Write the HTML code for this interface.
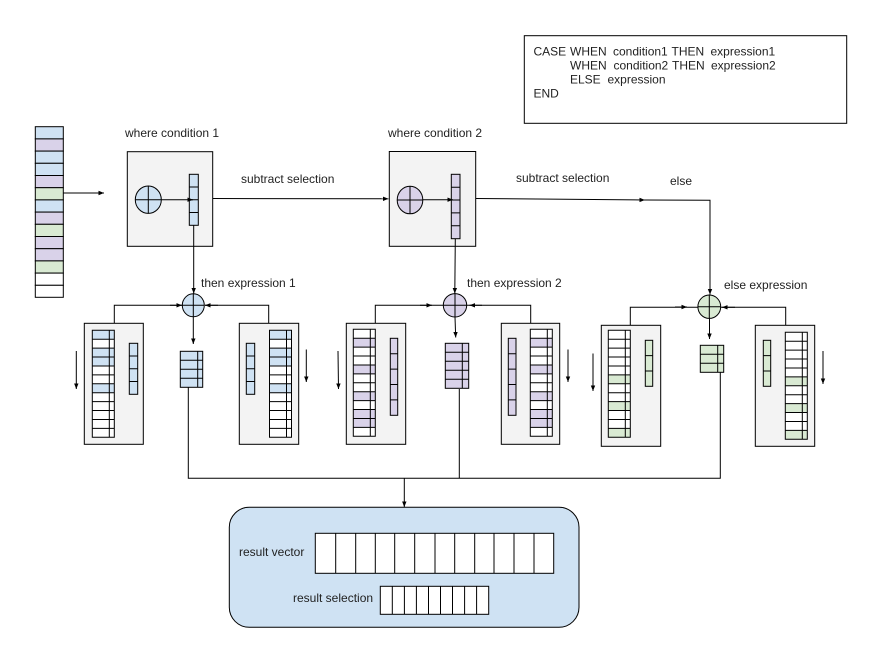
<!DOCTYPE html>
<html><head><meta charset="utf-8"><style>
html,body{margin:0;padding:0;background:#fff}
svg{display:block}
text{font-family:"Liberation Sans",sans-serif;font-size:12px;fill:#222}
.l{fill:none;stroke:#000;stroke-width:1}
.a{fill:none;stroke:#000;stroke-width:1;marker-end:url(#h)}
.b{fill:#f3f3f3;stroke:#000;stroke-width:1}
.w{fill:#fff;stroke:none}
</style></head><body>
<svg width="882" height="654" viewBox="0 0 882 654" xmlns="http://www.w3.org/2000/svg">
<defs>
<marker id="h" markerUnits="userSpaceOnUse" markerWidth="6" markerHeight="6" refX="5.5" refY="3" orient="auto"><path d="M0,.8L5.5,3L0,5.2z" fill="#000"/></marker>
<g id="tg"><path class="l" d="M0,0H22V107H0ZM17,0V107M0,8.92H22M0,17.83H22M0,26.75H22M0,35.67H22M0,44.58H22M0,53.5H22M0,62.42H22M0,71.33H22M0,80.25H22M0,89.17H22M0,98.08H22"/></g>
<g id="tb"><rect class="w" width="22" height="107"/><g fill="#cfe2f3"><rect width="22" height="8.92"/><rect y="17.83" width="22" height="17.84"/><rect y="53.5" width="22" height="8.92"/></g><use href="#tg"/></g>
<g id="tp"><rect class="w" width="22" height="107"/><g fill="#d9d2e9"><rect y="8.92" width="22" height="8.92"/><rect y="35.67" width="22" height="8.92"/><rect y="62.42" width="22" height="8.92"/><rect y="80.25" width="22" height="17.84"/></g><use href="#tg"/></g>
<g id="tv"><rect class="w" width="22" height="107"/><g fill="#d9ead3"><rect y="44.58" width="22" height="8.92"/><rect y="71.33" width="22" height="8.92"/><rect y="98.08" width="22" height="8.92"/></g><use href="#tg"/></g>
</defs>

<!-- case box -->
<rect x="524.3" y="35.7" width="322.4" height="87.6" fill="#fff" stroke="#000"/>
<text x="533.5" y="55.7">CASE</text><text x="570" y="55.7">WHEN</text><text x="613" y="55.7">condition1</text><text x="671.5" y="55.7">THEN</text><text x="710.5" y="55.7">expression1</text>
<text x="570" y="69.5">WHEN</text><text x="613.5" y="69.5">condition2</text><text x="672" y="69.5">THEN</text><text x="711" y="69.5">expression2</text>
<text x="570" y="83.5">ELSE</text><text x="607.5" y="83.5">expression</text>
<text x="533.5" y="97.3">END</text>

<!-- source stack -->
<g stroke="#000">
<rect x="35.3" y="126.7" width="28" height="12.2" fill="#cfe2f3"/><rect x="35.3" y="138.9" width="28" height="12.2" fill="#d9d2e9"/><rect x="35.3" y="151.1" width="28" height="12.2" fill="#cfe2f3"/><rect x="35.3" y="163.3" width="28" height="12.2" fill="#cfe2f3"/><rect x="35.3" y="175.5" width="28" height="12.2" fill="#d9d2e9"/><rect x="35.3" y="187.7" width="28" height="12.2" fill="#d9ead3"/><rect x="35.3" y="199.9" width="28" height="12.2" fill="#cfe2f3"/><rect x="35.3" y="212.1" width="28" height="12.2" fill="#d9d2e9"/><rect x="35.3" y="224.3" width="28" height="12.2" fill="#d9ead3"/><rect x="35.3" y="236.5" width="28" height="12.2" fill="#d9d2e9"/><rect x="35.3" y="248.7" width="28" height="12.2" fill="#d9d2e9"/><rect x="35.3" y="260.9" width="28" height="12.2" fill="#d9ead3"/><rect x="35.3" y="273.1" width="28" height="12.2" fill="#fff"/><rect x="35.3" y="285.3" width="28" height="12" fill="#fff"/>
</g>
<path class="a" d="M63.5,193H104"/>

<!-- condition boxes -->
<text x="125" y="137">where condition 1</text>
<text x="388" y="137">where condition 2</text>
<rect class="b" x="127.3" y="151.7" width="85.4" height="94.6"/>
<rect class="b" x="389.3" y="151.5" width="86.4" height="94.8"/>
<ellipse cx="148.3" cy="199.7" rx="13" ry="13.7" fill="#cfe2f3" stroke="#000"/>
<path class="l" d="M135.3,199.7H161.3M148.3,186V213.4"/>
<ellipse cx="410" cy="200" rx="12.8" ry="13.8" fill="#d9d2e9" stroke="#000"/>
<path class="l" d="M397.2,200H422.8M410,186.2V213.8"/>
<rect x="189.3" y="174.3" width="9" height="51" fill="#cfe2f3" stroke="#000"/>
<path class="l" d="M189.3,187H198.3M189.3,199.8H198.3M189.3,212.5H198.3"/>
<rect x="451.3" y="174.3" width="8.7" height="64.4" fill="#d9d2e9" stroke="#000"/>
<path class="l" d="M451.3,187.2H460M451.3,200H460M451.3,212.9H460M451.3,225.8H460"/>
<path class="a" d="M161.3,199.7H193"/>
<path class="a" d="M422.8,199.7H453"/>

<!-- flow lines -->
<path class="a" d="M212.7,198.5L388.5,198.8"/>
<path class="a" d="M475.7,198.5L645,200"/>
<path class="l" d="M645,200L710,200.3V294"/>
<path class="a" d="M710,280V294.5"/>
<path class="a" d="M193.7,225.3V293.5"/>
<path class="a" d="M455.3,238.7L454.8,293.5"/>
<text x="241" y="183">subtract selection</text>
<text x="516" y="182">subtract selection</text>
<text x="670" y="185">else</text>
<text x="201" y="287">then expression 1</text>
<text x="467" y="287">then expression 2</text>
<text x="724" y="289">else expression</text>

<!-- group 1 -->
<path class="l" d="M114.3,323.3V305.3H182M268.7,323.3V305.3H205"/>
<path class="a" d="M170,305.3H182"/><path class="a" d="M218,305.3H205"/>
<ellipse cx="193.3" cy="305.3" rx="11" ry="11.5" fill="#cfe2f3" stroke="#000"/>
<path class="l" d="M182.3,305.3H204.3M193.3,293.8V316.8"/>
<path class="a" d="M193.3,316.8V344"/>
<rect class="b" x="84.3" y="323.3" width="59" height="121"/>
<rect class="b" x="239.3" y="323.3" width="59.4" height="121"/>
<use href="#tb" x="92.3" y="330.3"/><use href="#tb" x="269.5" y="330.3"/>
<rect x="129.3" y="343.3" width="8.4" height="51" fill="#cfe2f3" stroke="#000"/>
<path class="l" d="M129.3,356H137.7M129.3,368.8H137.7M129.3,381.5H137.7"/>
<rect x="246.3" y="343.3" width="8.4" height="51" fill="#cfe2f3" stroke="#000"/>
<path class="l" d="M246.3,356H254.7M246.3,368.8H254.7M246.3,381.5H254.7"/>
<rect x="180.3" y="351.3" width="22.4" height="36" fill="#cfe2f3" stroke="#000"/>
<path class="l" d="M197.7,351.3V387.3M180.3,360.3H202.7M180.3,369.3H202.7M180.3,378.3H202.7"/>
<path class="a" d="M76.3,351V389"/><path class="a" d="M306.3,349.5V382"/>

<!-- group 2 -->
<path class="l" d="M375.3,323.3V305.3H443.3M530.7,323.3V305.3H467"/>
<path class="a" d="M420,305.3H432"/><path class="a" d="M482,305.3H469.5"/>
<ellipse cx="455" cy="305.3" rx="11.7" ry="11.7" fill="#d9d2e9" stroke="#000"/>
<path class="l" d="M443.3,305.3H466.7M455,293.6V317"/>
<path class="a" d="M455,317L455.7,337.5"/>
<rect class="b" x="346.3" y="323.3" width="59.4" height="121"/>
<rect class="b" x="501.3" y="323.3" width="58.4" height="121"/>
<use href="#tp" x="353.3" y="329.3"/><use href="#tp" x="530.3" y="329.3"/>
<rect x="390.3" y="338.3" width="7.4" height="77" fill="#d9d2e9" stroke="#000"/>
<path class="l" d="M390.3,353.7H397.7M390.3,369.1H397.7M390.3,384.5H397.7M390.3,399.9H397.7"/>
<rect x="508.3" y="338.3" width="7.7" height="77" fill="#d9d2e9" stroke="#000"/>
<path class="l" d="M508.3,353.7H516M508.3,369.1H516M508.3,384.5H516M508.3,399.9H516"/>
<rect x="445.3" y="343.3" width="23.4" height="45" fill="#d9d2e9" stroke="#000"/>
<path class="l" d="M462.3,343.3V388.3M445.3,352.3H468.7M445.3,361.3H468.7M445.3,370.3H468.7M445.3,379.3H468.7"/>
<path class="a" d="M338,351L338.5,389"/><path class="a" d="M568,349.5V382"/>

<!-- group 3 -->
<path class="l" d="M630.3,325.3V307.3H698M785.7,325.3V307.3H721"/>
<path class="a" d="M675,307H687"/><path class="a" d="M735,307.3H722"/>
<ellipse cx="709.3" cy="306.7" rx="11.4" ry="11.7" fill="#d9ead3" stroke="#000"/>
<path class="l" d="M697.9,306.7H720.7M709.3,295V318.4"/>
<path class="a" d="M709.5,318.4V339"/>
<rect class="b" x="601.3" y="325.3" width="59.4" height="121"/>
<rect class="b" x="755.3" y="325.3" width="59.4" height="121"/>
<use href="#tv" x="608.3" y="330.3"/><use href="#tv" x="785.3" y="332.3"/>
<rect x="645.3" y="340.3" width="7.4" height="46" fill="#d9ead3" stroke="#000"/>
<path class="l" d="M645.3,355.6H652.7M645.3,371H652.7"/>
<rect x="763.3" y="340.3" width="7.4" height="46" fill="#d9ead3" stroke="#000"/>
<path class="l" d="M763.3,355.6H770.7M763.3,371H770.7"/>
<rect x="700.3" y="345.3" width="23.4" height="27" fill="#d9ead3" stroke="#000"/>
<path class="l" d="M717.7,345.3V372.3M700.3,354.3H723.7M700.3,363.3H723.7"/>
<path class="a" d="M593,353.5V391"/><path class="a" d="M823,351V384"/>

<!-- merge -->
<path class="l" d="M188.3,387.3V478.3H720.3V372.3M459.3,389V478.3"/>
<path class="a" d="M404.3,478.3V507"/>

<!-- result -->
<rect x="229.3" y="507.3" width="349.7" height="120" rx="20" ry="20" fill="#cfe2f3" stroke="#000"/>
<rect x="315.3" y="533.3" width="238.4" height="40" fill="#fff" stroke="#000"/>
<path class="l" d="M335.7,533.3V573.3M355.7,533.3V573.3M375.3,533.3V573.3M394.7,533.3V573.3M414.7,533.3V573.3M435,533.3V573.3M454.7,533.3V573.3M474.7,533.3V573.3M494,533.3V573.3M514,533.3V573.3M534,533.3V573.3"/>
<rect x="380.3" y="586.3" width="108.4" height="28" fill="#fff" stroke="#000"/>
<path class="l" d="M392.3,586.3V614.3M404.4,586.3V614.3M416.4,586.3V614.3M428.5,586.3V614.3M440.5,586.3V614.3M452.5,586.3V614.3M464.6,586.3V614.3M476.6,586.3V614.3"/>
<text x="239" y="556">result vector</text>
<text x="293" y="602">result selection</text>
</svg>
</body></html>
